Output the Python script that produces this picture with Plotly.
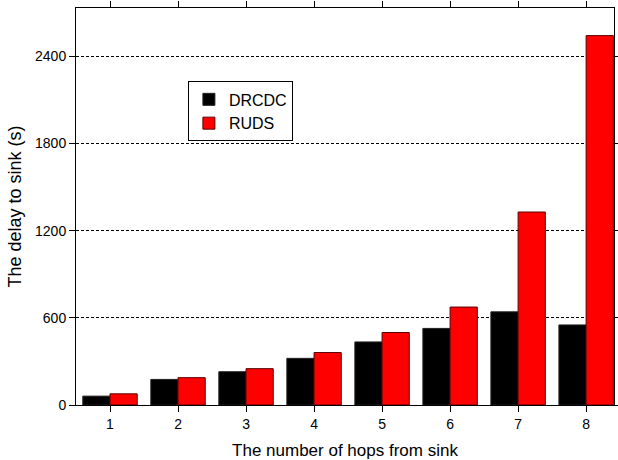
import plotly.graph_objects as go

hops = [1, 2, 3, 4, 5, 6, 7, 8]
drcdc = [61, 176, 229, 321, 434, 527, 641, 551]
ruds = [77, 188, 250, 361, 499, 674, 1328, 2542]
y_ticks = [0, 600, 1200, 1800, 2400]

fig = go.Figure()
fig.add_trace(go.Bar(x=hops, y=drcdc, name="DRCDC",
                     marker=dict(color="black", line=dict(color="#222222", width=1))))
fig.add_trace(go.Bar(x=hops, y=ruds, name="RUDS",
                     marker=dict(color="#ff0000", line=dict(color="#5a0000", width=1))))

fig.update_layout(
    width=618, height=460,
    margin=dict(l=76, r=4, t=8, b=55),
    plot_bgcolor="white", paper_bgcolor="white",
    barmode="group", bargap=0.2, bargroupgap=0,
    font=dict(family="Liberation Sans, Arial", color="black", size=14),
    legend=dict(x=0.208, y=0.815, xanchor="left", yanchor="top",
                bgcolor="white", bordercolor="black", borderwidth=1,
                font=dict(size=16), tracegroupgap=0, itemwidth=30),
    xaxis=dict(range=[0.5, 8.41], tickvals=hops, ticks="outside", ticklen=6,
               tickcolor="black", showline=True, linecolor="black", linewidth=1,
               mirror="ticks", showgrid=False, zeroline=False, automargin=False,
               title=dict(text="The number of hops from sink", font=dict(size=17), standoff=15)),
    yaxis=dict(range=[0, 2732], tickvals=y_ticks, ticks="outside", ticklen=6,
               tickcolor="black", showline=True, linecolor="black", linewidth=1,
               mirror="ticks", showgrid=True, gridcolor="black", gridwidth=1,
               griddash="3px,2px", zeroline=False, automargin=False,
               title=dict(text="The delay to sink (s)", font=dict(size=18), standoff=8)),
)
fig.write_html("out.html")
